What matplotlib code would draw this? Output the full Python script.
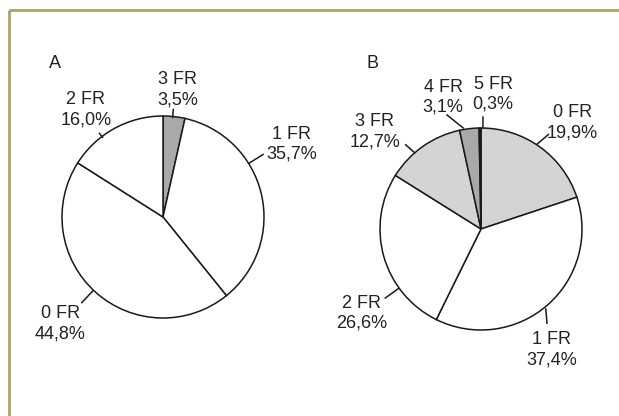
import numpy as np
import matplotlib
matplotlib.use("Agg")
import matplotlib.pyplot as plt

plt.rcParams['font.family'] = ['Liberation Sans', 'DejaVu Sans']

# --- data ---
labels_a = ["3 FR", "1 FR", "0 FR", "2 FR"]
values_a = [3.5, 35.7, 44.8, 16.0]
colors_a = ["#a9a9a9", "white", "white", "white"]

labels_b = ["0 FR", "1 FR", "2 FR", "3 FR", "4 FR", "5 FR"]
values_b = [19.9, 37.4, 26.6, 12.7, 3.1, 0.3]
colors_b = ["#d3d4d6", "white", "white", "#d3d4d6", "#a9a9a9", "#222222"]

# --- layout (pixels, angles clockwise from 12 o'clock) ---
W, H = 619, 416
R = 101
center_a = (163, 217)
center_b = (481, 229)
# leader: (angle0, r0, angle1, r1), text: (angle, r)
leaders_a = [(5.5, 100, 5.5, 108), (58, 102, 58, 118), (223.5, 102, 223.5, 118), (322.8, 100, 322.8, 105)]
text_a = [(6.7, 128), (60.5, 148), (223.9, 148), (324.3, 132)]
leaders_b = [(33.5, 102, 35.5, 116), (141, 103, 145, 115), (234.2, 102, 234.2, 118),
             (319, 101, 318.2, 113), (350, 102.6, 343.4, 119), (1.1, 101, 1.0, 112)]
text_b = [(40.6, 140), (149.6, 140), (234.8, 146), (312.5, 144), (343.9, 137), (5.1, 135.5)]


def fmt(v):
    return f"{v:.1f}".replace(".", ",") + "%"


def polar(c, ang, r):
    t = np.deg2rad(ang)
    return c[0] + r * np.sin(t), H - (c[1] - r * np.cos(t))


fig = plt.figure(figsize=(W / 100, H / 100), dpi=100)
ax = fig.add_axes([0, 0, 1, 1])

for c, vals, cols, labs, lds, txs in [
    (center_a, values_a, colors_a, labels_a, leaders_a, text_a),
    (center_b, values_b, colors_b, labels_b, leaders_b, text_b),
]:
    ax.pie(vals, colors=cols, startangle=90, counterclock=False,
           center=(c[0], H - c[1]), radius=R,
           wedgeprops=dict(edgecolor="#1a1a1a", linewidth=1.1))
    for lab, v, ld, tx in zip(labs, vals, lds, txs):
        x0, y0 = polar(c, ld[0], ld[1])
        x1, y1 = polar(c, ld[2], ld[3])
        ax.plot([x0, x1], [y0, y1], color="#1a1a1a", lw=1.1)
        xt, yt = polar(c, tx[0], tx[1])
        ax.text(xt, yt, f"{lab}\n{fmt(v)}", ha="center", va="center",
                multialignment="center", fontsize=13, linespacing=1.22, color="#222222")

ax.text(55, H - 63, "A", ha="center", va="center", fontsize=13, color="#222222")
ax.text(373, H - 63, "B", ha="center", va="center", fontsize=13, color="#222222")

# frame lines top and left
ax.plot([8.5, W], [H - 9.5, H - 9.5], color="#aba561", lw=2.0, solid_capstyle="butt")
ax.plot([8.5, 8.5], [H - 9.5, 0], color="#aba561", lw=2.0, solid_capstyle="butt")

ax.set_xlim(0, W)
ax.set_ylim(0, H)
ax.set_aspect("equal")
ax.axis("off")

fig.savefig("out.png", dpi=100)
